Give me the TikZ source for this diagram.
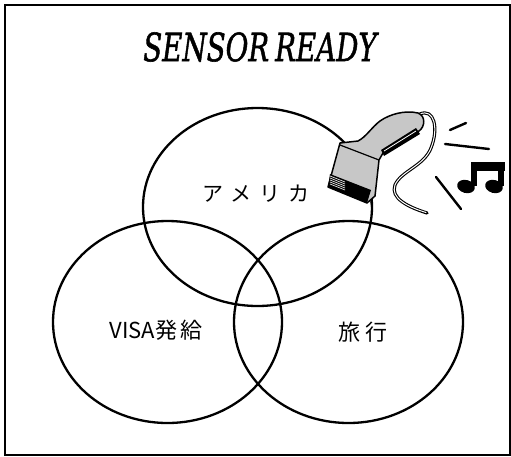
\documentclass[tikz,border=0pt]{standalone}
\usepackage{fontspec}
\usepackage{tikz}
\usetikzlibrary{shapes.geometric, positioning}

\newfontfamily\titlefont{DejaVu Serif}[ItalicFeatures={FakeBold=1.5}]
\newfontfamily\jpfont{Noto Sans CJK JP}

\begin{document}
\begin{tikzpicture}[
    x=1pt, y=-1pt,
    venn circle/.style={ellipse, draw=black, line width=2.3pt, minimum width=229pt, inner sep=0pt},
    venn label/.style={font=\jpfont\fontsize{22}{22}\selectfont, inner sep=0pt},
    scanner/.style={draw=black, line width=1.5pt, line join=round, fill=black!22},
    sound/.style={line width=2.4pt, line cap=round},
]

    \useasboundingbox (0,0) rectangle (511,456);
    \draw[line width=2pt] (5,5) rectangle (510,455);

    % title
    \node[inner sep=0pt, xscale=0.71] (title) at (260,47)
        {\titlefont\itshape\fontsize{39}{39}\selectfont SENSOR\hspace{-4pt} READY};

    % % Sets
    \node[venn circle, minimum height=198pt] (america) at (257.5,207) {};
    \node[venn circle, minimum height=202pt] (visa)    at (167.5,322) {};
    \node[venn circle, minimum height=202pt] (travel)  at (348.5,322) {};

    % Labels
    \node[venn label, font=\jpfont\fontsize{21}{21}\selectfont] (americalabel) at (256,194)
        {ア\hspace{8pt}メ\hspace{8pt}リ\hspace{8pt}カ};
    \node[venn label] (visalabel) at (156,330) {VISA発\hspace{3pt}給};
    \node[venn label] (travellabel) at (363,332) {旅\hspace{6pt}行};

    % Scanner cord (outlined)
    \draw[line width=3.2pt, line cap=round]
        (420,114) .. controls (434,108) and (439,128) .. (431,148)
        .. controls (424,166) and (401,171) .. (395,185)
        .. controls (390,198) and (408,207) .. (427,213);
    \draw[line width=1pt, white, line cap=round]
        (420,114) .. controls (434,108) and (439,128) .. (431,148)
        .. controls (424,166) and (401,171) .. (395,185)
        .. controls (390,198) and (408,207) .. (426,212.5);

    % Scanner body
    \draw[scanner]
        (340,143) -- (328,187) -- (367,203) -- (375,196) -- (379,160) -- (383,153)
        -- (419,131) .. controls (425,127) and (426,116) .. (418,113)
        .. controls (405,110) and (390,114) .. (380,121)
        .. controls (372,127) and (366,137) .. (358,141) -- cycle;
    \draw[line width=1.2pt] (340,145) -- (379,160);
    % grip slot
    \fill[black] (381,150) -- (416,128) -- (420,134) -- (384,156) -- cycle;
    \draw[white, line width=0.8pt] (384,151) -- (416,131);
    % front window
    \fill[black] (330,174) -- (371,190) -- (367,203) -- (328,187) -- cycle;
    \foreach \k in {0,...,4}
        \draw[white, line width=0.6pt] (330,{176+2*\k}) -- (345,{182+2*\k});
    \draw[line width=1.5pt] (371,201) -- (372,209);

    % Sound marks
    \draw[sound] (450,130) -- (466,123);
    \draw[sound] (445,144) -- (489,149);
    \draw[sound] (436,177) -- (461,209);

    % Note
    \fill (471,162) rectangle (505,171);
    \fill (471,162) rectangle (477,186);
    \fill (498,162) rectangle (504,186);
    \fill[rotate around={-15:(466,186.5)}] (466,186.5) ellipse (9 and 6.5);
    \fill[rotate around={-15:(494,186.5)}] (494,186.5) ellipse (9 and 6.5);

\end{tikzpicture}
\end{document}
